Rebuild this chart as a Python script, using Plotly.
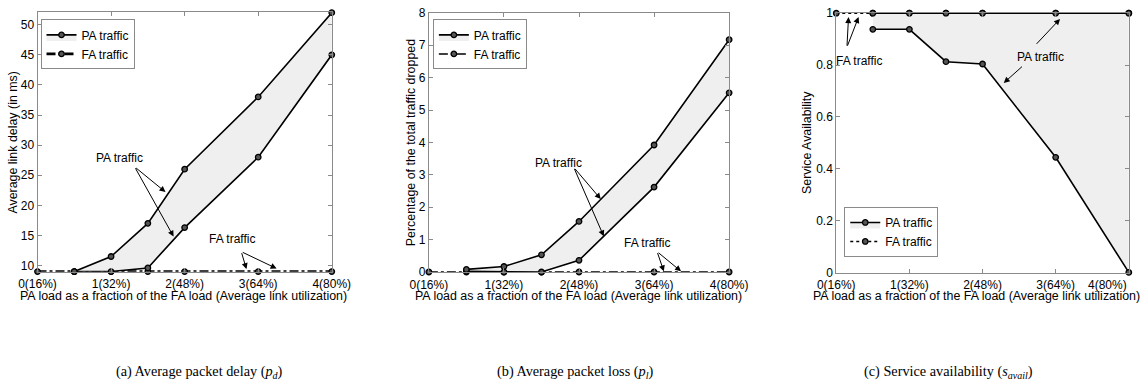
import plotly.graph_objects as go

W, H = 1148, 388

# ---------------- data ----------------
x_ticks = [0, 1, 2, 3, 4]
x_tick_labels = ["0(16%)", "1(32%)", "2(48%)", "3(64%)", "4(80%)"]
x_pa = [0.5, 1, 1.5, 2, 3, 4]
x_fa = [0, 0.5, 1, 1.5, 2, 3, 4]

delay_pa_upper = [9.0, 11.5, 17.0, 26.0, 38.0, 52.0]
delay_pa_lower = [9.0, 9.0, 9.6, 16.3, 28.0, 45.0]
delay_fa = [9.0, 9.0, 9.0, 9.0, 9.0, 9.0, 9.0]

loss_pa_upper = [0.08, 0.17, 0.53, 1.56, 3.92, 7.17]
loss_pa_lower = [0.02, 0.0, 0.0, 0.36, 2.62, 5.53]
loss_fa = [0.0, 0.0, 0.0, 0.0, 0.0, 0.0, 0.0]

avail_pa_upper = [1.0, 1.0, 1.0, 1.0, 1.0, 1.0]
avail_pa_lower = [0.938, 0.938, 0.813, 0.804, 0.444, 0.0]
avail_fa = [1.0, 1.0, 1.0, 1.0, 1.0, 1.0, 1.0]

delay_ticks = [10, 15, 20, 25, 30, 35, 40, 45, 50]
loss_ticks = [0, 1, 2, 3, 4, 5, 6, 7, 8]
avail_ticks = [0, 0.2, 0.4, 0.6, 0.8, 1.0]
avail_tick_labels = ["0", "0.2", "0.4", "0.6", "0.8", "1"]

y_titles = ["Average link delay (in ms)",
            "Percentage of the total traffic dropped",
            "Service Availability"]
x_title = "PA load as a fraction of the FA load (Average link utilization)"
captions = ["(a) Average packet delay (<i>p<sub>d</sub></i>)",
            "(b) Average packet loss (<i>p<sub>l</sub></i>)",
            "(c) Service availability (<i>s<sub>avail</sub></i>)"]

# ---------------- layout geometry (target pixels in the photographed page) ----------------
panels = [  # left, right, top, bottom
    (38, 332, 12, 272),
    (429, 729, 12.3, 272.3),
    (836, 1128.3, 12.7, 272.7),
]
y_ranges = [[8.95, 52.05], [-0.004, 8.004], [-0.0005, 1.0005]]
legend_pos = [(41, 19), (433, 19), (844, 207)]
ytitle_x = [14, 412, 807]
xtitle_x = [184, 578, 976]
caption_x = [200, 575, 948]

# the page is photographed slightly shrunk and centred; compensate for it
S = 0.966
OX = W * (1 - S) / 2
OY = H * (1 - S) / 2

def px(xp):
    return ((xp - OX) / S) / W

def py(yp):
    return 1 - ((yp - OY) / S) / H

FONT = "Liberation Sans, Arial, sans-serif"
FS_TICK = 11.6 / S
FS_TITLE = 12.0 / S
FS_TXT = 11.6 / S
FS_CAP = 13.8 / S
AXC = "#8a8a8a"
FILL = "#efefef"

fig = go.Figure()

series = [
    (delay_pa_lower, delay_pa_upper, delay_fa),
    (loss_pa_lower, loss_pa_upper, loss_fa),
    (avail_pa_lower, avail_pa_upper, avail_fa),
]

marker = dict(symbol="circle", size=5.5, color="#555", line=dict(color="black", width=1.3))

for i, (lo, up, fa) in enumerate(series):
    xa = "x" if i == 0 else f"x{i+1}"
    ya = "y" if i == 0 else f"y{i+1}"
    lg = "legend" if i == 0 else f"legend{i+1}"
    fa_width = 2.6 if i == 0 else 1.5
    fa_dash = "dashdot" if i < 2 else "dot"
    fig.add_trace(go.Scatter(x=x_fa, y=fa, mode="lines+markers", xaxis=xa, yaxis=ya,
                             line=dict(color="black", width=fa_width, dash=fa_dash),
                             marker=marker, name="FA traffic", legend=lg,
                             legendrank=2, cliponaxis=False))
    fig.add_trace(go.Scatter(x=x_pa, y=lo, mode="lines+markers", xaxis=xa, yaxis=ya,
                             line=dict(color="black", width=1.6), marker=marker,
                             showlegend=False, cliponaxis=False))
    fig.add_trace(go.Scatter(x=x_pa, y=up, mode="lines+markers", xaxis=xa, yaxis=ya,
                             fill="tonexty", fillcolor=FILL,
                             line=dict(color="black", width=1.6), marker=marker,
                             name="PA traffic", legend=lg, legendrank=1, cliponaxis=False))

layout = dict(width=W, height=H, margin=dict(l=0, r=0, t=0, b=0),
              paper_bgcolor="white", plot_bgcolor="white",
              font=dict(family=FONT, size=FS_TXT, color="black"))

annotations = []
for i, (l, r, t, b) in enumerate(panels):
    sfx = "" if i == 0 else str(i + 1)
    last = i == 2
    # the right-most label of the last panel would run past the page edge: draw it as a
    # right-aligned text instead of a tick label
    tt = x_tick_labels[:-1] + [""] if last else x_tick_labels
    layout["xaxis" + sfx] = dict(
        domain=[px(l), px(r)], range=[0, 4], anchor="y" + sfx,
        tickvals=x_ticks, ticktext=tt, ticks="inside", ticklen=4,
        tickcolor=AXC, showline=True, linecolor=AXC, linewidth=1, mirror="ticks",
        showgrid=False, zeroline=False, tickfont=dict(size=FS_TICK, family=FONT),
        ticklabelstandoff=1, ticklabeloverflow="allow")
    if last:
        annotations.append(dict(text=x_tick_labels[-1], x=1.0, y=py(r and 285), xref="paper",
                                yref="paper", xanchor="right", yanchor="middle",
                                showarrow=False, font=dict(size=FS_TICK, family=FONT)))
    yt = avail_ticks if i == 2 else (delay_ticks if i == 0 else loss_ticks)
    ytt = avail_tick_labels if i == 2 else [str(v) for v in yt]
    layout["yaxis" + sfx] = dict(
        domain=[py(b), py(t)], range=y_ranges[i], anchor="x" + sfx,
        tickvals=yt, ticktext=ytt, ticks="inside", ticklen=4, tickcolor=AXC,
        showline=True, linecolor=AXC, linewidth=1, mirror="ticks",
        showgrid=False, zeroline=False, tickfont=dict(size=FS_TICK, family=FONT),
        ticklabelstandoff=0, ticklabeloverflow="allow")
    lx, ly = legend_pos[i]
    layout["legend" if i == 0 else f"legend{i+1}"] = dict(
        x=px(lx), y=py(ly), xanchor="left", yanchor="top",
        bgcolor="white", bordercolor=AXC, borderwidth=1,
        font=dict(size=FS_TXT, family=FONT), itemwidth=30,
        tracegroupgap=0, traceorder="normal")
    # axis titles
    annotations.append(dict(text=x_title, x=px(xtitle_x[i]), y=py(296.5), xref="paper", yref="paper",
                            xanchor="center", yanchor="middle",
                            showarrow=False, font=dict(size=FS_TITLE, family=FONT)))
    annotations.append(dict(text=y_titles[i], x=px(ytitle_x[i]), y=py((t + b) / 2), xref="paper",
                            yref="paper", xanchor="center", yanchor="middle",
                            showarrow=False, textangle=-90,
                            font=dict(size=FS_TITLE, family=FONT)))
    annotations.append(dict(text=captions[i], x=px(caption_x[i]), y=py(372), xref="paper",
                            yref="paper", xanchor="center", yanchor="middle", showarrow=False,
                            font=dict(size=FS_CAP, family="Liberation Serif, Times New Roman, serif")))

# text labels and arrows (data coordinates)
labels = [
    (0, "PA traffic", 1.12, 27.9),
    (0, "FA traffic", 2.64, 14.4),
    (1, "PA traffic", 1.73, 3.38),
    (1, "FA traffic", 2.90, 0.91),
    (2, "FA traffic", 0.31, 0.814),
    (2, "PA traffic", 2.79, 0.833),
]
arrows = [  # panel, tail x, tail y, head x, head y
    (0, 1.32, 26.4, 1.74, 22.2),
    (0, 1.32, 26.4, 1.85, 14.8),
    (0, 2.77, 12.3, 2.84, 9.4),
    (0, 2.77, 12.3, 3.25, 9.5),
    (1, 1.93, 3.23, 2.29, 2.25),
    (1, 1.93, 3.23, 2.33, 1.10),
    (1, 3.04, 0.63, 3.13, 0.02),
    (1, 3.04, 0.63, 3.36, 0.02),
    (2, 0.146, 0.869, 0.168, 0.985),
    (2, 0.146, 0.869, 0.305, 0.985),
    (2, 2.72, 0.876, 3.06, 0.978),
    (2, 2.56, 0.799, 2.29, 0.731),
]
for p, txt, x, y in labels:
    sfx = "" if p == 0 else str(p + 1)
    annotations.append(dict(text=txt, x=x, y=y, xref="x" + sfx, yref="y" + sfx,
                            xanchor="center", yanchor="middle",
                            showarrow=False, font=dict(size=FS_TXT, family=FONT)))
for p, tx, ty, hx, hy in arrows:
    sfx = "" if p == 0 else str(p + 1)
    annotations.append(dict(text="", x=hx, y=hy, ax=tx, ay=ty, xref="x" + sfx, yref="y" + sfx,
                            axref="x" + sfx, ayref="y" + sfx, showarrow=True,
                            arrowhead=2, arrowsize=1.2, arrowwidth=1, arrowcolor="black",
                            standoff=0, startstandoff=0))

layout["annotations"] = annotations
fig.update_layout(**layout)
fig.write_html("out.html")
